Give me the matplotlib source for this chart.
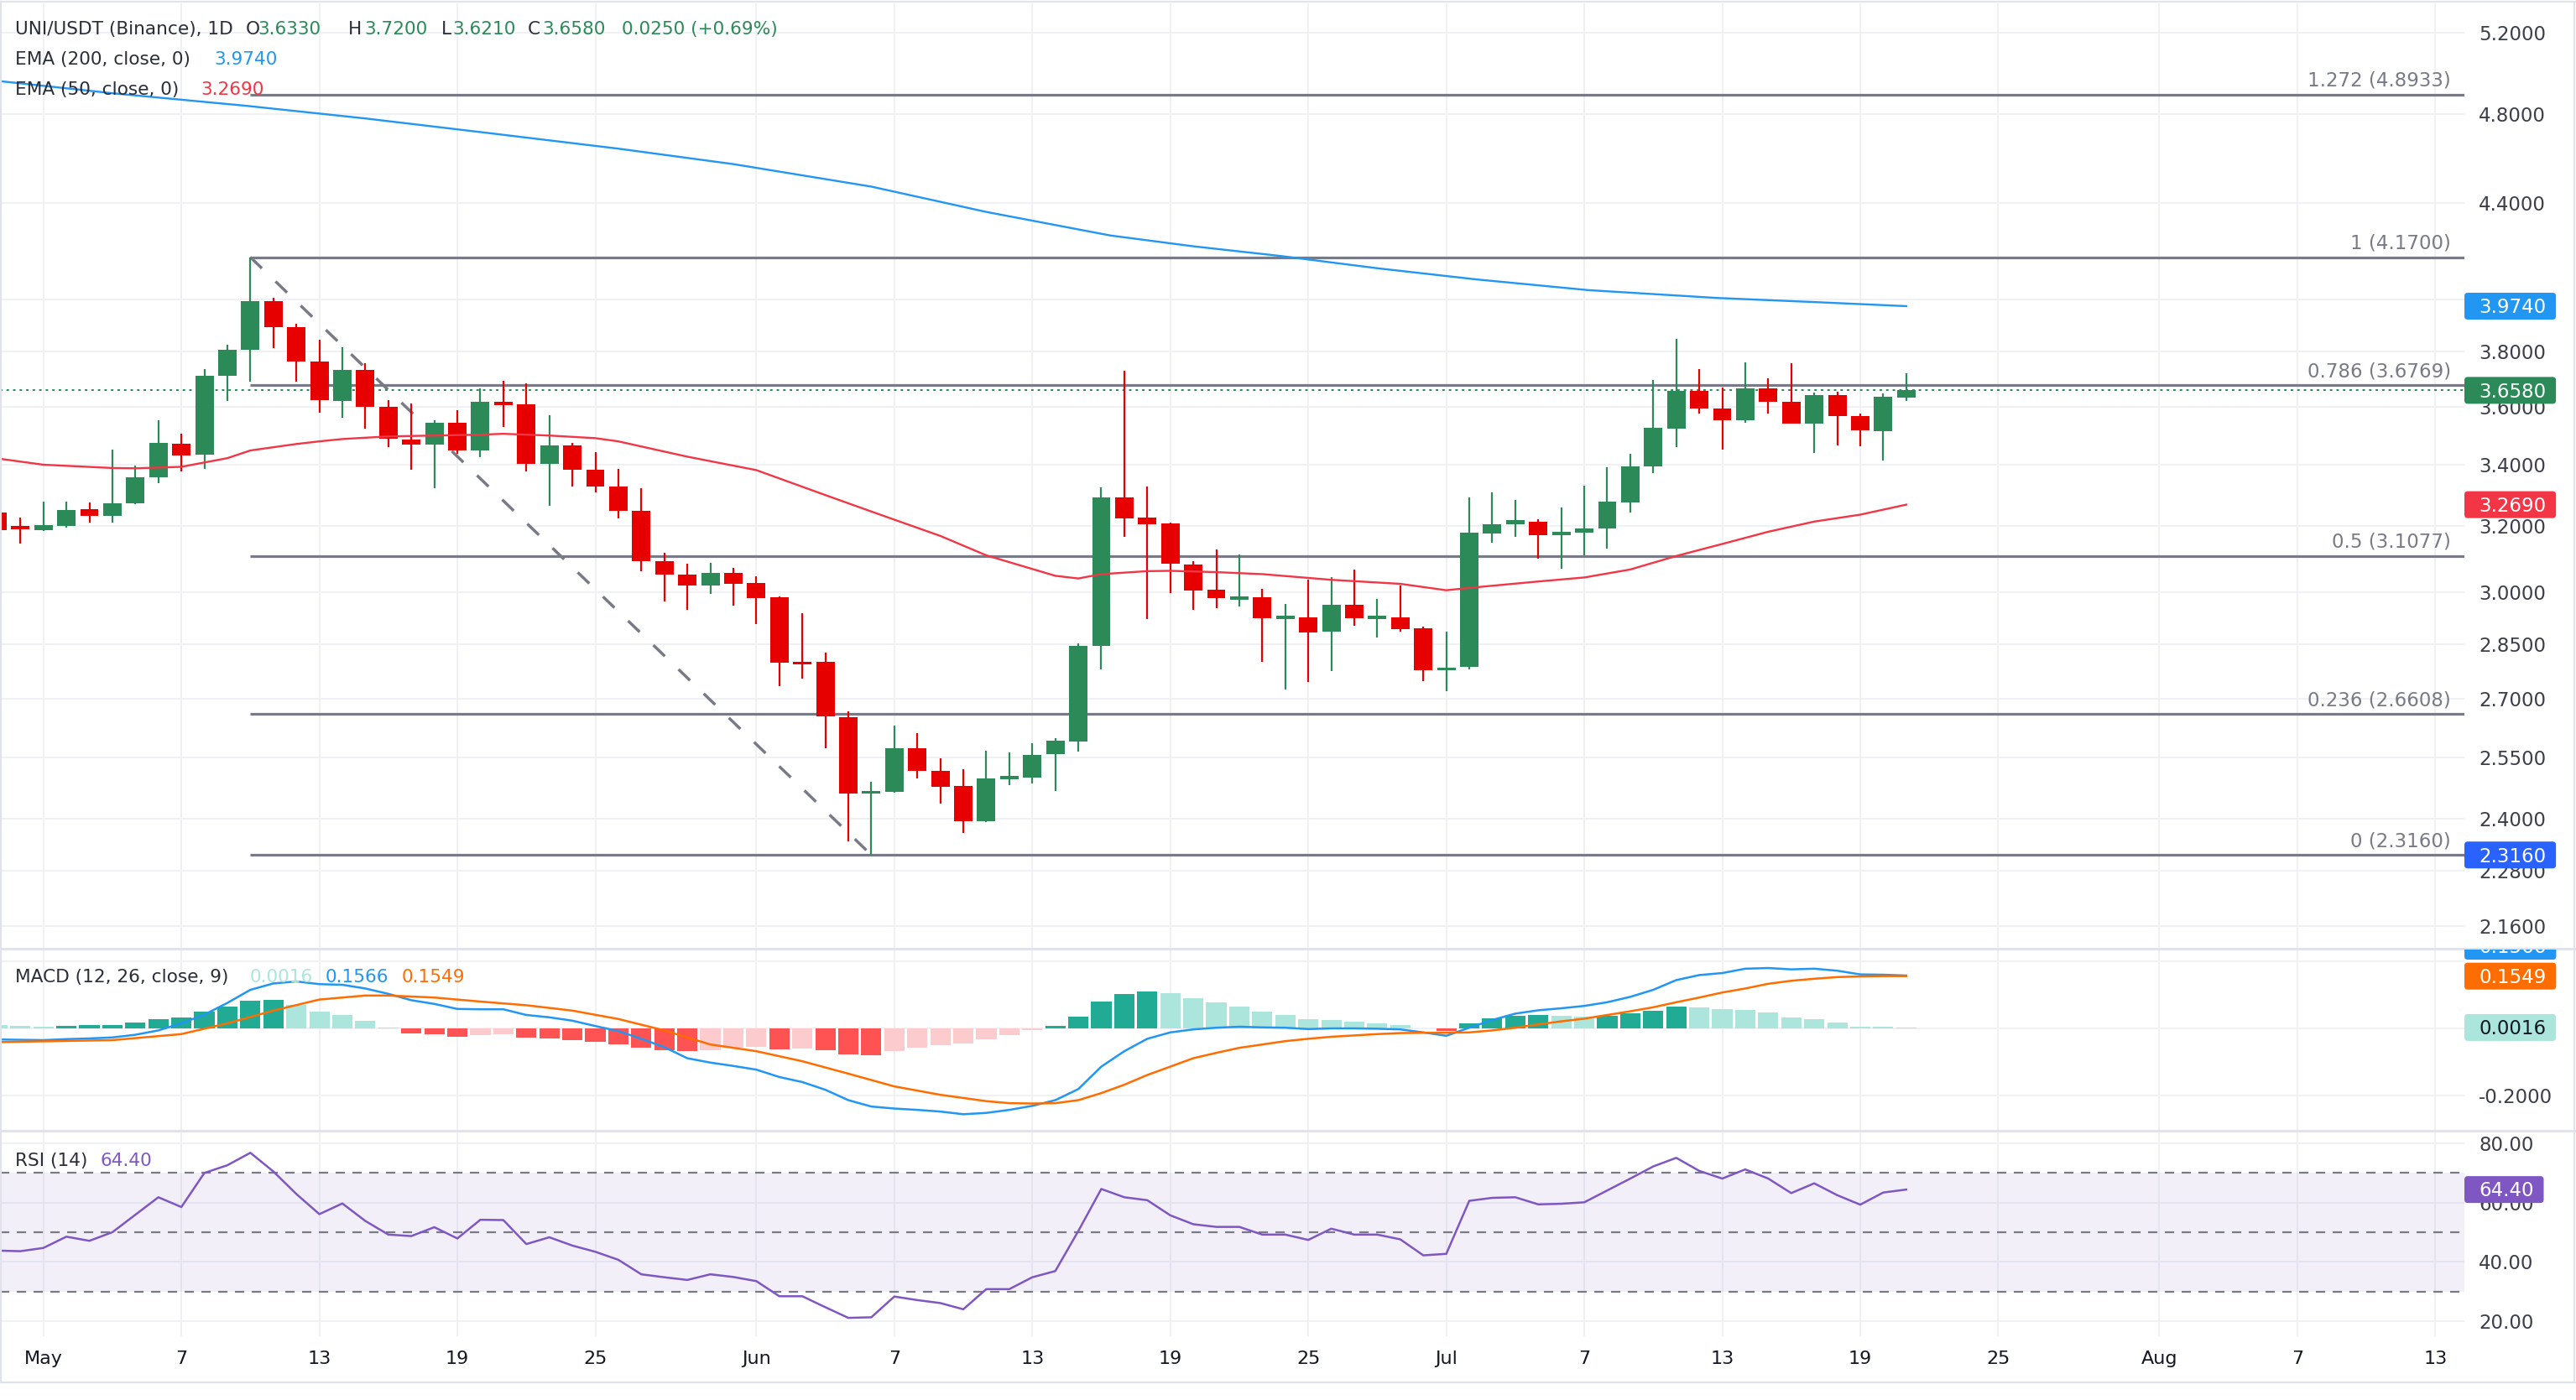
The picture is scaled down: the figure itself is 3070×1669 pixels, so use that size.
import matplotlib
matplotlib.use('Agg')
import math
import matplotlib.pyplot as plt
from matplotlib.patches import FancyBboxPatch
from matplotlib.lines import Line2D
from matplotlib.transforms import IdentityTransform, Bbox, offset_copy
from matplotlib.ticker import FixedLocator, NullLocator, FixedFormatter

# ---------------- data (day index: 0 = May 1) ----------------
days = list(range(-2, 82))
opens = [3.243, 3.200, 3.187, 3.202, 3.255, 3.234, 3.274, 3.357, 3.471, 3.434,
         3.710, 3.807, 3.993, 3.893, 3.764, 3.620, 3.731, 3.600, 3.486, 3.468,
         3.544, 3.449, 3.616, 3.607, 3.403, 3.464, 3.384, 3.329, 3.249, 3.092,
         3.051, 3.020, 3.057, 3.026, 2.984, 2.800, 2.800, 2.653, 2.461, 2.465,
         2.572, 2.515, 2.478, 2.395, 2.498, 2.500, 2.557, 2.590, 2.845, 3.293,
         3.228, 3.208, 3.083, 3.007, 2.980, 2.984, 2.924, 2.927, 2.885, 2.963,
         2.924, 2.926, 2.894, 2.778, 2.786, 3.178, 3.206, 3.215, 3.172, 3.181,
         3.192, 3.277, 3.393, 3.524, 3.657, 3.592, 3.553, 3.664, 3.617, 3.539,
         3.641, 3.568, 3.514, 3.633]
highs = [3.250, 3.228, 3.278, 3.279, 3.276, 3.452, 3.397, 3.553, 3.506, 3.735,
         3.826, 4.170, 4.006, 3.905, 3.846, 3.817, 3.757, 3.624, 3.610, 3.551,
         3.586, 3.664, 3.692, 3.682, 3.569, 3.474, 3.441, 3.386, 3.322, 3.117,
         3.084, 3.087, 3.072, 3.046, 2.986, 2.938, 2.826, 2.667, 2.489, 2.630,
         2.610, 2.547, 2.520, 2.567, 2.562, 2.585, 2.599, 2.851, 3.326, 3.729,
         3.329, 3.211, 3.092, 3.128, 3.113, 3.009, 2.965, 3.037, 3.045, 3.067,
         2.980, 3.018, 2.900, 2.886, 3.292, 3.309, 3.284, 3.223, 3.259, 3.330,
         3.392, 3.438, 3.695, 3.847, 3.735, 3.668, 3.759, 3.701, 3.757, 3.651,
         3.654, 3.577, 3.647, 3.720]
lows = [3.180, 3.147, 3.186, 3.195, 3.211, 3.212, 3.272, 3.339, 3.379, 3.386,
        3.620, 3.690, 3.814, 3.690, 3.578, 3.560, 3.523, 3.459, 3.384, 3.321,
        3.438, 3.426, 3.530, 3.378, 3.264, 3.329, 3.310, 3.225, 3.062, 2.971,
        2.948, 2.994, 2.959, 2.907, 2.734, 2.754, 2.573, 2.347, 2.316, 2.463,
        2.497, 2.437, 2.366, 2.393, 2.480, 2.484, 2.467, 2.564, 2.780, 3.166,
        2.922, 2.997, 2.948, 2.952, 2.958, 2.800, 2.726, 2.745, 2.776, 2.901,
        2.868, 2.886, 2.748, 2.720, 2.780, 3.149, 3.168, 3.100, 3.069, 3.110,
        3.130, 3.245, 3.373, 3.460, 3.577, 3.452, 3.543, 3.577, 3.539, 3.440,
        3.464, 3.461, 3.415, 3.621]
closes = [3.189, 3.192, 3.203, 3.252, 3.234, 3.274, 3.357, 3.474, 3.431, 3.711,
          3.807, 3.993, 3.892, 3.763, 3.624, 3.733, 3.600, 3.487, 3.468, 3.544,
          3.449, 3.616, 3.607, 3.403, 3.464, 3.384, 3.329, 3.249, 3.092, 3.052,
          3.020, 3.057, 3.023, 2.983, 2.799, 2.795, 2.655, 2.461, 2.465, 2.573,
          2.515, 2.477, 2.395, 2.498, 2.500, 2.556, 2.592, 2.845, 3.293, 3.225,
          3.206, 3.085, 3.005, 2.983, 2.985, 2.924, 2.927, 2.883, 2.963, 2.924,
          2.928, 2.893, 2.778, 2.784, 3.180, 3.207, 3.219, 3.173, 3.182, 3.193,
          3.279, 3.393, 3.525, 3.657, 3.592, 3.553, 3.664, 3.617, 3.539, 3.641,
          3.566, 3.516, 3.635, 3.658]

ema200_days = [-2, 3, 8.8, 14, 19.5, 25, 30, 36, 41, 46.4, 50, 53.8, 58, 62.3, 67.2, 72.8, 77, 81]
ema200_vals = [4.96, 4.90, 4.84, 4.78, 4.71, 4.64, 4.57, 4.47, 4.36, 4.26, 4.215, 4.175, 4.125,
               4.08, 4.037, 4.006, 3.99, 3.974]
ema50_days = [-2, 0, 3, 4, 6, 8, 9, 11, 12, 13, 15, 17, 19, 20, 22, 24, 25, 28, 31, 34, 36, 39,
              41, 44, 45, 46, 48, 49, 51, 53, 56, 59, 61, 62, 65, 67, 69, 71, 73, 75, 77, 79, 81]
ema50_vals = [3.421, 3.400, 3.389, 3.388, 3.393, 3.422, 3.448, 3.470, 3.479, 3.487, 3.496, 3.499,
              3.502, 3.505, 3.499, 3.490, 3.479, 3.427, 3.382, 3.300, 3.247, 3.170, 3.110, 3.048,
              3.040, 3.053, 3.062, 3.063, 3.059, 3.053, 3.036, 3.024, 3.005, 3.012, 3.031, 3.043,
              3.067, 3.108, 3.145, 3.183, 3.215, 3.237, 3.269]

fib_ratios = ['1.272', '1', '0.786', '0.5', '0.236', '0']
fib_levels = [4.8933, 4.1700, 3.6769, 3.1077, 2.6608, 2.3160]
fib_start_day = 9
trend_days = [9, 36]
trend_prices = [4.17, 2.316]
last_price = 3.658
ema200_last = 3.974
ema50_last = 3.269

macd_hist = [0.008, 0.006, 0.003, 0.0075, 0.008, 0.010, 0.0175, 0.0275, 0.0325, 0.050,
             0.065, 0.0825, 0.085, 0.070, 0.050, 0.040, 0.0225, 0.0025, -0.015, -0.019,
             -0.027, -0.022, -0.019, -0.029, -0.032, -0.037, -0.042, -0.049, -0.059, -0.067,
             -0.069, -0.067, -0.059, -0.057, -0.064, -0.062, -0.067, -0.079, -0.080, -0.069,
             -0.059, -0.052, -0.047, -0.034, -0.022, -0.007, 0.0075, 0.035, 0.080, 0.1025,
             0.110, 0.105, 0.090, 0.0775, 0.065, 0.050, 0.040, 0.0275, 0.025, 0.020,
             0.015, 0.010, -0.002, -0.009, 0.015, 0.030, 0.0375, 0.040, 0.0375, 0.035,
             0.0375, 0.045, 0.0525, 0.065, 0.0625, 0.056, 0.055, 0.0475, 0.0325, 0.0275,
             0.0175, 0.005, 0.0045, 0.0016]
macd_line = [-0.034, -0.035, -0.036, -0.033, -0.031, -0.028, -0.020, -0.007, 0.014, 0.040,
             0.075, 0.114, 0.133, 0.139, 0.131, 0.129, 0.118, 0.102, 0.083, 0.072,
             0.057, 0.056, 0.056, 0.039, 0.032, 0.022, 0.006, -0.009, -0.032, -0.057,
             -0.090, -0.103, -0.113, -0.124, -0.146, -0.161, -0.184, -0.215, -0.234, -0.240,
             -0.244, -0.249, -0.257, -0.253, -0.244, -0.232, -0.215, -0.182, -0.115, -0.069,
             -0.032, -0.013, -0.004, 0.001, 0.004, 0.002, 0.001, -0.003, -0.001, -0.001,
             -0.002, -0.004, -0.013, -0.023, 0.001, 0.024, 0.043, 0.053, 0.059, 0.066,
             0.077, 0.093, 0.114, 0.143, 0.158, 0.164, 0.177, 0.179, 0.175, 0.177,
             0.171, 0.160, 0.159, 0.1566]
signal_days = [-2, 3, 6, 8, 10, 12, 14, 15, 17, 19, 21, 23, 25, 27, 29, 31, 33, 35, 37, 39,
               41, 42, 43, 44, 45, 46, 47, 48, 49, 50, 51, 52, 53, 54, 55, 56, 57, 58, 59,
               60, 61, 62, 63, 64, 65, 66, 67, 68, 69, 70, 71, 72, 73, 74, 75, 76, 77, 78,
               79, 80, 81]
signal_vals = [-0.042, -0.036, -0.018, 0.014, 0.052, 0.085, 0.097, 0.097, 0.091, 0.079, 0.068,
               0.052, 0.027, -0.007, -0.049, -0.069, -0.099, -0.136, -0.174, -0.199,
               -0.218, -0.224, -0.225, -0.224, -0.215, -0.194, -0.169, -0.140, -0.115, -0.090,
               -0.074, -0.059, -0.049, -0.039, -0.032, -0.026, -0.022, -0.018, -0.015,
               -0.014, -0.014, -0.013, -0.007, 0.001, 0.011, 0.020, 0.028, 0.039, 0.050,
               0.062, 0.077, 0.091, 0.106, 0.118, 0.132, 0.141, 0.147, 0.152, 0.154, 0.155,
               0.1549]

rsi_vals = [43.8, 43.6, 44.7, 48.5, 47.1, 50.0, 55.9, 61.8, 58.5, 70.0,
            72.6, 76.8, 70.5, 62.9, 56.1, 59.7, 53.8, 49.2, 48.7, 51.7,
            47.9, 54.2, 54.1, 46.0, 48.3, 45.5, 43.4, 40.7, 35.8, 34.8,
            33.9, 35.8, 34.9, 33.5, 28.4, 28.4, 24.7, 21.1, 21.3, 28.3,
            27.1, 26.1, 24.0, 30.8, 30.8, 34.8, 36.9, 50.4, 64.6, 61.8,
            60.8, 55.7, 52.7, 51.8, 51.8, 49.2, 49.2, 47.4, 51.2, 49.2,
            49.2, 47.6, 42.2, 42.7, 60.6, 61.6, 61.8, 59.4, 59.6, 60.1,
            64.1, 68.1, 72.2, 75.1, 70.7, 68.1, 71.2, 68.1, 63.2, 66.5,
            62.5, 59.3, 63.4, 64.4]

price_ticks = [5.2, 4.8, 4.4, 4.0, 3.8, 3.6, 3.4, 3.2, 3.0, 2.85, 2.7, 2.55, 2.4, 2.28, 2.16]
hidden_price_ticks = [4.0]
macd_ticks = [0.2, 0.0, -0.2]
rsi_ticks = [80, 60, 40, 20]
rsi_bands = [70, 50, 30]
xtick_days = [0, 6, 12, 18, 24, 31, 37, 43, 49, 55, 61, 67, 73, 79, 85, 92, 98, 104]
xtick_labels = ['May', '7', '13', '19', '25', 'Jun', '7', '13', '19', '25', 'Jul', '7', '13',
                '19', '25', 'Aug', '7', '13']

# ---------------- styling ----------------
W, H = 3070, 1669
UP = '#2b8a57'
DN = '#e60000'
GRID = '#eef0f4'
FIB = '#787b86'
TXT = '#131722'
SEP = '#e0e3eb'
FONT = 'DejaVu Sans'
TICK_SIZE = 16.5
PLOT_RIGHT = 2937
XLIM = (-1.886, 105.27)

fig = plt.figure(figsize=(W / 100, H / 100), dpi=100)
fig.patch.set_facecolor('white')
renderer = fig.canvas.get_renderer()


def rect(top, bottom):
    return [0, 1 - bottom / H, PLOT_RIGHT / W, (bottom - top) / H]


ax_main = fig.add_axes(rect(4, 1130))
ax_macd = fig.add_axes(rect(1132, 1347))
ax_rsi = fig.add_axes(rect(1349, 1593))

for ax in (ax_main, ax_macd, ax_rsi):
    ax.set_xlim(XLIM)
    for s in ax.spines.values():
        s.set_visible(False)
    ax.set_facecolor('none')
    ax.xaxis.set_major_locator(FixedLocator(xtick_days))
    ax.xaxis.set_minor_locator(NullLocator())
    ax.grid(True, which='major', color=GRID, lw=1.3, zorder=0)
    ax.set_axisbelow(True)
    ax.yaxis.tick_right()
    ax.tick_params(axis='y', length=0, pad=12.5, labelsize=TICK_SIZE, labelcolor='#3c3f4a')
    ax.tick_params(axis='x', length=0, labelbottom=False)

# ---- main pane ----
ax_main.set_yscale('log')
ax_main.set_ylim(2.1137, 5.353)
ax_main.yaxis.set_major_locator(FixedLocator(price_ticks))
ax_main.yaxis.set_minor_locator(NullLocator())
ax_main.yaxis.set_major_formatter(FixedFormatter(
    ['' if t in hidden_price_ticks else f'{t:.4f}' for t in price_ticks]))
ax_main.yaxis.set_minor_formatter(FixedFormatter([]))

cols = [UP if c >= o else DN for o, c in zip(opens, closes)]
bots, hts = [], []
for o, c in zip(opens, closes):
    lo, hi = min(o, c), max(o, c)
    if hi / lo < 1.003:
        mid = math.sqrt(lo * hi)
        lo, hi = mid / 1.0015, mid * 1.0015
    bots.append(lo)
    hts.append(hi - lo)
ax_main.vlines(days, lows, highs, colors=cols, lw=1.6, zorder=3)
ax_main.bar(days, hts, bottom=bots, width=0.8, color=cols, linewidth=0, zorder=4)

ax_main.plot(ema200_days, ema200_vals, color='#2196f3', lw=1.7, zorder=5)
ax_main.plot(ema50_days, ema50_vals, color='#f23645', lw=1.7, zorder=5)

fib_tr = offset_copy(ax_main.transData, fig=fig, x=0, y=10, units='dots')
for lvl, r in zip(fib_levels, fib_ratios):
    ax_main.hlines(lvl, fib_start_day, XLIM[1], color=FIB, lw=2.3, zorder=2)
    ax_main.text(104.68, lvl, f'{r} ({lvl:.4f})', transform=fib_tr, ha='right', va='baseline',
                 color=FIB, fontsize=16.5, family=FONT, zorder=6)

ax_main.plot(trend_days, trend_prices, color=FIB, lw=2.5, ls=(0, (5.5, 6.5)),
             dash_capstyle='butt', zorder=2)
ax_main.axhline(last_price, color=UP, lw=1.4, ls=(0, (1.5, 2.5)), zorder=2)

# ---- MACD pane ----
ax_macd.set_ylim(-0.3037, 0.2341)
ax_macd.yaxis.set_major_locator(FixedLocator(macd_ticks))
ax_macd.yaxis.set_major_formatter(FixedFormatter(['', '', '-0.2000']))
hcols = []
prev = None
for v in macd_hist:
    if v >= 0:
        hcols.append('#22ab94' if (prev is not None and v > prev) else '#ace5dc')
    else:
        hcols.append('#ff5252' if (prev is not None and v < prev) else '#fccbcd')
    prev = v
ax_macd.bar(days, macd_hist, width=0.88, color=hcols, linewidth=0, zorder=2)
ax_macd.plot(days, macd_line, color='#2196f3', lw=1.8, zorder=3)
ax_macd.plot(signal_days, signal_vals, color='#ff6d00', lw=1.8, zorder=3)

# ---- RSI pane ----
ax_rsi.set_ylim(14.9, 83.96)
ax_rsi.yaxis.set_major_locator(FixedLocator(rsi_ticks))
ax_rsi.yaxis.set_major_formatter(FixedFormatter([f'{t:.2f}' for t in rsi_ticks]))
ax_rsi.axhspan(rsi_bands[-1], rsi_bands[0], color='#7e57c2', alpha=0.09, lw=0, zorder=1)
for b in rsi_bands:
    ax_rsi.axhline(b, color=FIB, lw=1.6, ls=(0, (5, 4)), zorder=2)
ax_rsi.plot(days, rsi_vals, color='#7e57c2', lw=1.8, zorder=3)
ax_rsi.tick_params(axis='x', labelbottom=True, pad=12, labelsize=16, labelcolor=TXT)
ax_rsi.set_xticklabels(xtick_labels)

for ax in (ax_main, ax_macd, ax_rsi):
    for lab in ax.get_yticklabels() + ax.get_xticklabels():
        lab.set_family(FONT)

# ---- separators & border ----
for yy in (1131, 1348):
    fig.add_artist(Line2D([0, W], [H - yy, H - yy], transform=IdentityTransform(),
                          color=SEP, lw=2.2, zorder=7))
for xs, ys in (([1, 1], [H - 2, H - 1648]), ([3068, 3068], [H - 2, H - 1648]),
               ([0, W], [H - 1.5, H - 1.5]), ([0, W], [H - 1648, H - 1648])):
    fig.add_artist(Line2D(xs, ys, transform=IdentityTransform(), color=SEP, lw=1.6, zorder=7))

# ---- header texts ----
probe = fig.text(0, 0, 'UNI/USDT (Binance), 1D', fontsize=20, family=FONT)
hw = probe.get_window_extent(renderer).width
probe.remove()
HS = 20 * 260 / hw


def put(x, yb, s, color):
    return fig.text(x / W, 1 - yb / H, s, color=color, fontsize=HS, family=FONT,
                    va='baseline', ha='left', zorder=8)


HC = '#2a2e39'
line1 = [('UNI/USDT (Binance), 1D', 18, HC), ('O', 293, HC), ('3.6330', 307, UP),
         ('H', 415, HC), ('3.7200', 434, UP), ('L', 526, HC), ('3.6210', 539, UP),
         ('C', 629, HC), ('3.6580', 646, UP), ('0.0250 (+0.69%)', 741, UP)]
for s, x, c in line1:
    put(x, 41, s, c)
put(18, 77, 'EMA (200, close, 0)', HC)
put(255, 77, '3.9740', '#2196f3')
put(18, 113, 'EMA (50, close, 0)', HC)
put(239, 113, '3.2690', '#f23645')
put(18, 1171, 'MACD (12, 26, close, 9)', HC)
put(298, 1171, '0.0016', '#ace5dc')
put(388, 1171, '0.1566', '#2196f3')
put(479, 1171, '0.1549', '#ff6d00')
put(18, 1390, 'RSI (14)', HC)
put(120, 1390, '64.40', '#7e57c2')

# ---- right-axis value boxes ----
CAP = 0.73 * TICK_SIZE * 100 / 72


def value_box(ax, val, text, fc, tc='white', ycenter_px=None, clip=None):
    if ycenter_px is None:
        yd = ax.transData.transform((1, val))[1]
    else:
        yd = H - ycenter_px
    t = fig.text(2954, yd - CAP / 2, text, transform=IdentityTransform(), color=tc,
                 fontsize=TICK_SIZE, family=FONT, va='baseline', ha='left', zorder=10)
    w = t.get_window_extent(renderer).width
    box = FancyBboxPatch((2937, yd - 16), 2954 + w + 12 - 2937, 32,
                         boxstyle='round,pad=0,rounding_size=4', transform=IdentityTransform(),
                         fc=fc, ec='none', zorder=9)
    fig.add_artist(box)
    if clip is not None:
        box.set_clip_box(clip)
        box.set_clip_on(True)
        t.set_clip_box(clip)
        t.set_clip_on(True)


value_box(ax_main, ema200_last, '3.9740', '#2196f3')
value_box(ax_main, last_price, '3.6580', UP)
value_box(ax_main, ema50_last, '3.2690', '#f23645')
value_box(ax_main, fib_levels[-1], '2.3160', '#2962ff')
macd_clip = Bbox.from_extents(2930, H - 1347, W, H - 1132)
value_box(ax_macd, macd_line[-1], '0.1566', '#2196f3', ycenter_px=1128, clip=macd_clip)
value_box(ax_macd, signal_vals[-1], '0.1549', '#ff6d00')
value_box(ax_macd, macd_hist[-1], '0.0016', '#ace5dc', tc='#131722')
value_box(ax_rsi, rsi_vals[-1], '64.40', '#7e57c2')

fig.savefig('out.png', dpi=100, facecolor='white')
